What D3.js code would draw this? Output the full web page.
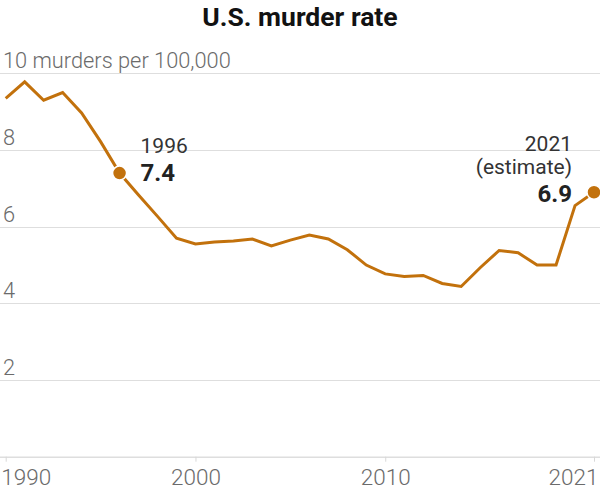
<!DOCTYPE html>
<html>
<head>
<meta charset="utf-8">
<script src="https://cdn.jsdelivr.net/npm/d3@7"></script>
<style>
  html, body { margin: 0; padding: 0; background: #fff; }
  svg { display: block; }
  text { font-family: Roboto, "Liberation Sans", Arial, sans-serif; }
</style>
</head>
<body>
<svg id="chart" width="600" height="501"></svg>
<script>
const years = d3.range(1990, 2022);
const rates = [9.35, 9.78, 9.3, 9.5, 8.97, 8.22, 7.4, 6.83, 6.27, 5.7,
               5.55, 5.6, 5.63, 5.68, 5.5, 5.65, 5.78, 5.68, 5.4, 5.0,
               4.77, 4.7, 4.73, 4.52, 4.44, 4.93, 5.38, 5.32, 5.0, 5.0,
               6.55, 6.9];
const yTicks = [2, 4, 6, 8, 10];
const xTicks = [1990, 2000, 2010, 2021];
const titleText = "U.S. murder rate";
const unitLabel = "10 murders per 100,000";
const annotations = [
  { year: 1996, lines: ["1996"], value: "7.4", side: "right" },
  { year: 2021, lines: ["2021", "(estimate)"], value: "6.9", side: "left" }
];

const data = years.map((y, i) => ({ year: y, rate: rates[i] }));
const svg = d3.select("#chart");
const W = 600;
const lineColor = "#c2710c";

const x = d3.scaleLinear().domain([1990, 2021]).range([5.7, 594]);
const y = d3.scaleLinear().domain([0, 10]).range([456.7, 73.4]);

// title
svg.append("text")
  .attr("x", 300).attr("y", 26)
  .attr("text-anchor", "middle")
  .attr("font-size", 26.5).attr("font-weight", 700)
  .attr("fill", "#121212")
  .text(titleText);

// gridlines
const grid = svg.append("g");
grid.selectAll("line").data(yTicks).join("line")
  .attr("x1", 0).attr("x2", W)
  .attr("y1", d => Math.round(y(d)) + 0.5).attr("y2", d => Math.round(y(d)) + 0.5)
  .attr("stroke", "#dedede").attr("stroke-width", 1.2);

// y labels
svg.append("g").selectAll("text").data(yTicks).join("text")
  .attr("x", 3).attr("y", d => y(d) - 5)
  .attr("font-size", 21.8).attr("font-weight", 300)
  .attr("fill", "#6b6b6b")
  .text(d => d === 10 ? unitLabel : d);

// x axis
const xAxis = d3.axisBottom(x).tickValues(xTicks).tickSize(5).tickFormat(d3.format("d"));
const gx = svg.append("g").attr("transform", `translate(0,${y(0)})`).call(xAxis);
gx.select(".domain").remove();
gx.insert("line", ":first-child").attr("x1", 0).attr("x2", W).attr("y1", 0.5).attr("y2", 0.5)
  .attr("stroke", "#dedede").attr("stroke-width", 1.5);
gx.selectAll(".tick line").attr("stroke", "#d8d8d8");
gx.selectAll(".tick text")
  .attr("y", 28.5).attr("dy", 0)
  .attr("font-size", 22.5).attr("font-weight", 300)
  .attr("font-family", 'Roboto, "Liberation Sans", Arial, sans-serif')
  .attr("fill", "#6b6b6b")
  .attr("text-anchor", (d, i) => i === 0 ? "start" : (i === xTicks.length - 1 ? "end" : "middle"))
  .attr("dx", (d, i) => i === 0 ? -5 : (i === xTicks.length - 1 ? 4 : 0));

// line
const line = d3.line().x(d => x(d.year)).y(d => y(d.rate));
svg.append("path").datum(data)
  .attr("d", line)
  .attr("fill", "none")
  .attr("stroke", lineColor)
  .attr("stroke-width", 3)
  .attr("stroke-linejoin", "miter");

// annotations
annotations.forEach(a => {
  const d = data.find(p => p.year === a.year);
  svg.append("circle")
    .attr("cx", x(d.year)).attr("cy", y(d.rate)).attr("r", 7)
    .attr("fill", lineColor).attr("stroke", "#fff").attr("stroke-width", 1.5);
  const g = svg.append("g");
  const tx = a.side === "right" ? x(d.year) + 21 : x(d.year) - 22;
  const anchor = a.side === "right" ? "start" : "end";
  const n = a.lines.length;
  const baseValue = a.side === "right" ? y(d.rate) + 8 : y(d.rate) + 10;
  a.lines.forEach((t, i) => {
    g.append("text")
      .attr("x", tx).attr("y", baseValue - 28 - (n - 1 - i) * 23)
      .attr("text-anchor", anchor)
      .attr("font-size", 21).attr("font-weight", 400)
      .attr("fill", "#333")
      .text(t);
  });
  g.append("text")
    .attr("x", tx).attr("y", baseValue)
    .attr("text-anchor", anchor)
    .attr("font-size", 24).attr("font-weight", 700)
    .attr("fill", "#222")
    .text(a.value);
});
</script>
</body>
</html>
